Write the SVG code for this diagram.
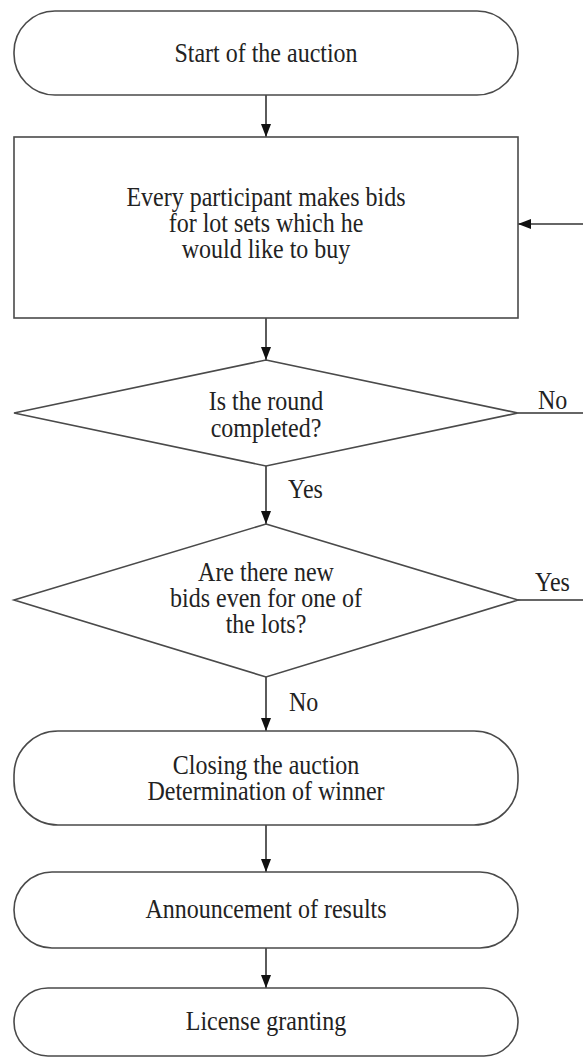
<svg xmlns="http://www.w3.org/2000/svg" width="583" height="1062" viewBox="0 0 583 1062">
  <style>
    .shape { fill: #ffffff; stroke: #4a4a4a; stroke-width: 1.6; }
    .edge { fill: none; stroke: #333333; stroke-width: 1.6; }
    .label { font-family: "Liberation Serif", "Times New Roman", serif; font-size: 24px; fill: #222222; text-anchor: middle; }
    .tag { font-family: "Liberation Serif", "Times New Roman", serif; font-size: 24px; fill: #222222; text-anchor: start; }
  </style>
  <defs>
    <marker id="arrow" viewBox="0 0 13 10" refX="13" refY="5" markerWidth="13" markerHeight="10" markerUnits="userSpaceOnUse" orient="auto">
      <path d="M0,0 L13,5 L0,10 Z" fill="#111111"/>
    </marker>
  </defs>

  <rect width="583" height="1062" fill="#ffffff"/>

  <!-- connectors; labels use a slightly tall serif face -->
  <g id="connectors">
    <line class="edge" x1="266" y1="95" x2="266" y2="137" marker-end="url(#arrow)"/>
    <line class="edge" x1="266" y1="318" x2="266" y2="360" marker-end="url(#arrow)"/>
    <line class="edge" x1="266" y1="466" x2="266" y2="524" marker-end="url(#arrow)"/>
    <line class="edge" x1="266" y1="677" x2="266" y2="731" marker-end="url(#arrow)"/>
    <line class="edge" x1="266" y1="825" x2="266" y2="872" marker-end="url(#arrow)"/>
    <line class="edge" x1="266" y1="948" x2="266" y2="988" marker-end="url(#arrow)"/>
    <!-- loop back into the bidding step -->
    <line class="edge" x1="583" y1="224" x2="518" y2="224" marker-end="url(#arrow)"/>
    <line class="edge" x1="518" y1="413" x2="583" y2="413"/>
    <line class="edge" x1="518" y1="600" x2="583" y2="600"/>
    <text class="tag" transform="translate(288,498) scale(1,1.1)">Yes</text>
    <text class="tag" transform="translate(538,409) scale(1,1.1)">No</text>
    <text class="tag" transform="translate(535,591) scale(1,1.1)">Yes</text>
    <text class="tag" transform="translate(289,711) scale(1,1.1)">No</text>
  </g>

  <g id="start">
    <rect class="shape" x="14" y="11" width="504" height="84" rx="41" ry="41"/>
    <text class="label" transform="translate(266,62) scale(1,1.1)">Start of the auction</text>
  </g>

  <g id="bidding">
    <rect class="shape" x="14" y="137" width="504" height="181"/>
    <text class="label" transform="translate(266,206) scale(1,1.1)">Every participant makes bids</text>
    <text class="label" transform="translate(266,232) scale(1,1.1)">for lot sets which he</text>
    <text class="label" transform="translate(266,258) scale(1,1.1)">would like to buy</text>
  </g>

  <g id="round-check">
    <polygon class="shape" points="266,360 518,413 266,466 14,413"/>
    <text class="label" transform="translate(266,410) scale(1,1.1)">Is the round</text>
    <text class="label" transform="translate(266,437) scale(1,1.1)">completed?</text>
  </g>

  <g id="new-bids-check">
    <polygon class="shape" points="266,524 518,600 266,677 14,600"/>
    <text class="label" transform="translate(266,581) scale(1,1.1)">Are there new</text>
    <text class="label" transform="translate(266,607) scale(1,1.1)">bids even for one of</text>
    <text class="label" transform="translate(266,633) scale(1,1.1)">the lots?</text>
  </g>

  <g id="closing">
    <rect class="shape" x="14" y="731" width="504" height="94" rx="44" ry="44"/>
    <text class="label" transform="translate(266,774) scale(1,1.1)">Closing the auction</text>
    <text class="label" transform="translate(266,800) scale(1,1.1)">Determination of winner</text>
  </g>

  <g id="announcement">
    <rect class="shape" x="14" y="872" width="504" height="76" rx="38" ry="38"/>
    <text class="label" transform="translate(266,918) scale(1,1.1)">Announcement of results</text>
  </g>

  <g id="license">
    <rect class="shape" x="14" y="988" width="504" height="68" rx="34" ry="34"/>
    <text class="label" transform="translate(266,1030) scale(1,1.1)">License granting</text>
  </g>
</svg>
